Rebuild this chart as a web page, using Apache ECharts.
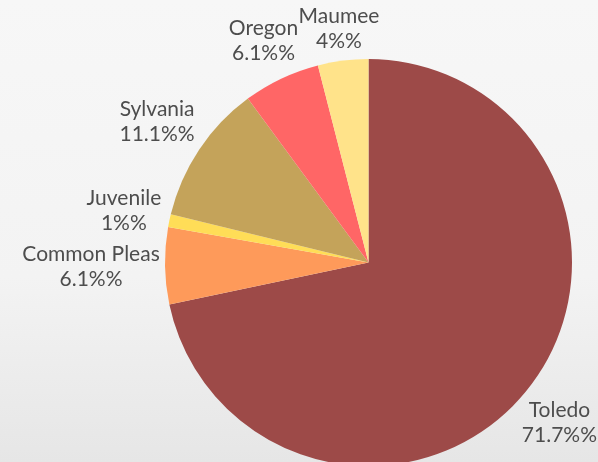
<!DOCTYPE html>
<html>
<head>
<meta charset="utf-8">
<script src="https://cdn.jsdelivr.net/npm/echarts@6/dist/echarts.min.js"></script>
<style>
  html, body { margin: 0; padding: 0; }
  #chart { width: 598px; height: 462px; background: linear-gradient(to bottom, #f7f7f7 0%, #f3f3f3 60%, #e6e6e6 100%); }
</style>
</head>
<body>
<div id="chart"></div>
<script>
// ---- data ----
const categories = ['Toledo', 'Common Pleas', 'Juvenile', 'Sylvania', 'Oregon', 'Maumee'];
const values = [71.7, 6.1, 1, 11.1, 6.1, 4];
const colors = ['#9d4a48', '#fe9a5a', '#ffdd57', '#c4a35a', '#ff6666', '#ffe38a'];

// ---- layout ----
const W = 598;
const CX = 368.5, CY = 262.5, R = 203.5, GAP = 5;
const total = values.reduce((a, b) => a + b, 0);

function placeLabel(p) {
  const i = p.dataIndex;
  let before = 0;
  for (let j = 0; j < i; j++) before += values[j];
  const mid = (before + values[i] / 2) / total * 2 * Math.PI;
  const sx = Math.sin(mid), sy = -Math.cos(mid);
  const hw = p.labelRect.width / 2, hh = p.labelRect.height / 2;
  let d = R;
  for (; d < R + 300; d += 0.5) {
    const nx = Math.max(Math.abs(d * sx) - hw, 0);
    const ny = Math.max(Math.abs(d * sy) - hh, 0);
    if (Math.hypot(nx, ny) >= R + GAP) break;
  }
  let x = CX + d * sx;
  const y = CY + d * sy;
  // keep the label inside the canvas
  if (x + hw > W - 1) x = W - 1 - hw;
  if (x - hw < 1) x = 1 + hw;
  return { x: x, y: y, align: 'center', verticalAlign: 'middle' };
}

const chart = echarts.init(document.getElementById('chart'), null, { renderer: 'canvas' });
chart.setOption({
  backgroundColor: 'transparent',
  animation: false,
  series: [{
    type: 'pie',
    center: [CX, CY],
    radius: [0, R],
    startAngle: 90,
    clockwise: true,
    avoidLabelOverlap: false,
    data: categories.map((name, i) => ({ name: name, value: values[i], itemStyle: { color: colors[i] } })),
    label: {
      show: true,
      position: 'outside',
      formatter: '{b}\n{d}%%',
      color: '#4d4d4d',
      fontFamily: 'Lato',
      fontSize: 21,
      lineHeight: 25
    },
    labelLine: { show: false },
    labelLayout: placeLabel,
    emphasis: { disabled: true }
  }]
});
</script>
</body>
</html>
